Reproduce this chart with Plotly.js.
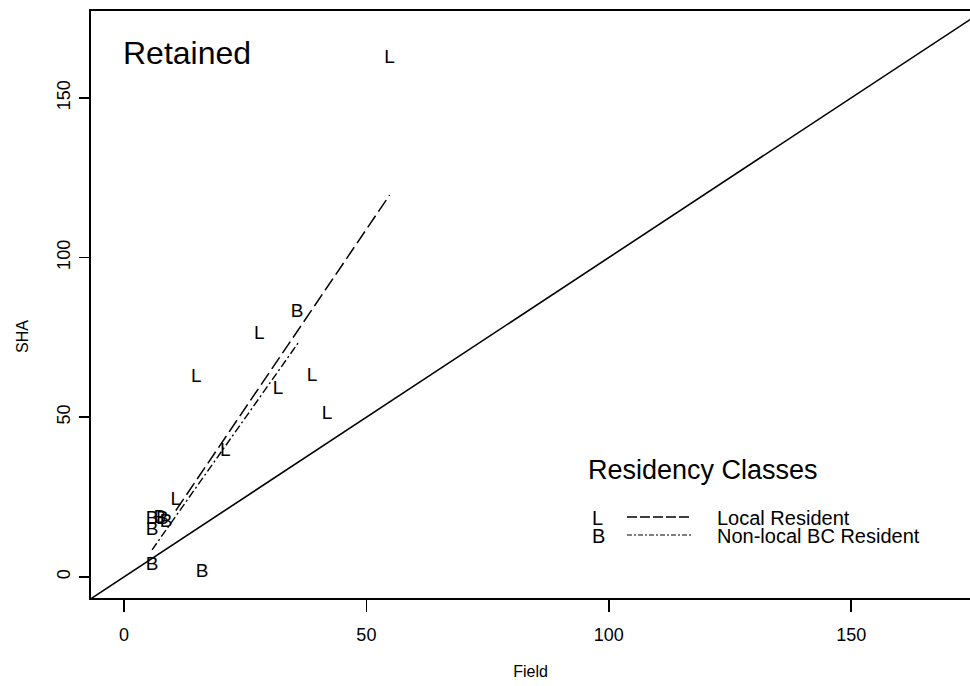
<!DOCTYPE html>
<html>
<head>
<meta charset="utf-8">
<script src="https://cdn.plot.ly/plotly-3.0.1.min.js"></script>
<style>html,body{margin:0;padding:0;background:#fff;}#chart{width:970px;height:686px;}</style>
</head>
<body>
<div id="chart"></div>
<script>
// Local resident points (Field, SHA)
var localX = [54.8, 27.9, 14.9, 38.8, 31.8, 41.9, 20.9, 10.7];
var localY = [162.4, 76.1, 62.6, 62.9, 58.8, 51.0, 39.4, 24.1];
// Non-local BC resident points
var bcX = [35.7, 16.1, 5.8, 5.8, 5.8, 7.4, 8.7, 7.9];
var bcY = [82.9, 1.6, 3.8, 18.2, 14.7, 18.5, 17.2, 18.0];
// Fitted lines (endpoints)
var fitLocalX = [10.7, 54.8];
var fitLocalY = [20.8, 119.6];
var fitBcX = [5.8, 35.9];
var fitBcY = [8.5, 73.2];
// Identity line
var idX = [-10, 185];
var idY = [-10, 185];
var xTicks = [0, 50, 100, 150];
var yTicks = [0, 50, 100, 150];

var FONT = "Liberation Sans, Arial, Helvetica, sans-serif";
var W = 970, H = 686, L = 91, T = 11, B = 88, R = 0;
function px(x){ return (x - L) / (W - L - R); }
function py(y){ return (H - B - y) / (H - T - B); }

var traces = [
  {x: idX, y: idY, mode: 'lines', line: {color: '#000', width: 1.6}, hoverinfo: 'skip'},
  {x: fitLocalX, y: fitLocalY, mode: 'lines', line: {color: '#000', width: 1.5, dash: '14px,5px'}, hoverinfo: 'skip'},
  {x: fitBcX, y: fitBcY, mode: 'lines', line: {color: '#000', width: 1.4, dash: '8px,3px,2px,3px'}, hoverinfo: 'skip'},
  {x: localX, y: localY, mode: 'text', text: localX.map(function(){return 'L';}), textposition: 'middle center',
   textfont: {family: FONT, size: 19, color: '#000'}, cliponaxis: false},
  {x: bcX, y: bcY, mode: 'text', text: bcX.map(function(){return 'B';}), textposition: 'middle center',
   textfont: {family: FONT, size: 19, color: '#000'}, cliponaxis: false}
];

var layout = {
  width: W, height: H,
  margin: {l: L, r: R, t: T, b: B},
  paper_bgcolor: '#fff', plot_bgcolor: '#fff',
  showlegend: false,
  font: {family: FONT, color: '#000'},
  xaxis: {
    range: [-6.8, 174.5], tickvals: xTicks, ticktext: xTicks.map(String),
    showgrid: false, zeroline: false, showline: true, linecolor: '#000', linewidth: 2,
    mirror: true, ticks: 'outside', ticklen: 12, tickwidth: 1.5, tickcolor: '#000',
    tickfont: {family: FONT, size: 18, color: '#000'}, ticklabelstandoff: 7,
    title: {text: 'Field', font: {family: FONT, size: 16, color: '#000'}, standoff: 22}
  },
  yaxis: {
    range: [-6.6, 177.2], tickvals: yTicks, ticktext: yTicks.map(String),
    showgrid: false, zeroline: false, showline: true, linecolor: '#000', linewidth: 2,
    ticks: 'outside', ticklen: 10, tickwidth: 1.5, tickcolor: '#000', tickangle: -90,
    tickfont: {family: FONT, size: 18, color: '#000'}, ticklabelstandoff: 2
  },
  annotations: [
    {xref: 'paper', yref: 'paper', x: px(22), y: py(337), text: 'SHA', textangle: -90, showarrow: false,
     xanchor: 'center', yanchor: 'middle', font: {family: FONT, size: 16, color: '#000'}},
    {xref: 'paper', yref: 'paper', x: px(121), y: py(53), text: 'Retained', showarrow: false,
     xanchor: 'left', yanchor: 'middle', font: {family: FONT, size: 32, color: '#000'}},
    {xref: 'paper', yref: 'paper', x: px(586), y: py(470), text: 'Residency Classes', showarrow: false,
     xanchor: 'left', yanchor: 'middle', font: {family: FONT, size: 27, color: '#000'}},
    {xref: 'paper', yref: 'paper', x: px(590), y: py(518), text: 'L', showarrow: false,
     xanchor: 'left', yanchor: 'middle', font: {family: FONT, size: 20, color: '#000'}},
    {xref: 'paper', yref: 'paper', x: px(590), y: py(536), text: 'B', showarrow: false,
     xanchor: 'left', yanchor: 'middle', font: {family: FONT, size: 20, color: '#000'}},
    {xref: 'paper', yref: 'paper', x: px(715), y: py(518), text: 'Local Resident', showarrow: false,
     xanchor: 'left', yanchor: 'middle', font: {family: FONT, size: 20, color: '#000'}},
    {xref: 'paper', yref: 'paper', x: px(715), y: py(536), text: 'Non-local BC Resident', showarrow: false,
     xanchor: 'left', yanchor: 'middle', font: {family: FONT, size: 20, color: '#000'}}
  ],
  shapes: [
    {type: 'line', xref: 'paper', yref: 'paper', x0: px(627), x1: px(692), y0: py(517), y1: py(517),
     line: {color: '#000', width: 1.4, dash: '10px,3px'}},
    {type: 'line', xref: 'paper', yref: 'paper', x0: px(627), x1: px(692), y0: py(535), y1: py(535),
     line: {color: '#000', width: 1.2, dash: '5px,2px,2px,2px'}}
  ]
};

Plotly.newPlot('chart', traces, layout, {staticPlot: true, displayModeBar: false});
</script>
</body>
</html>
